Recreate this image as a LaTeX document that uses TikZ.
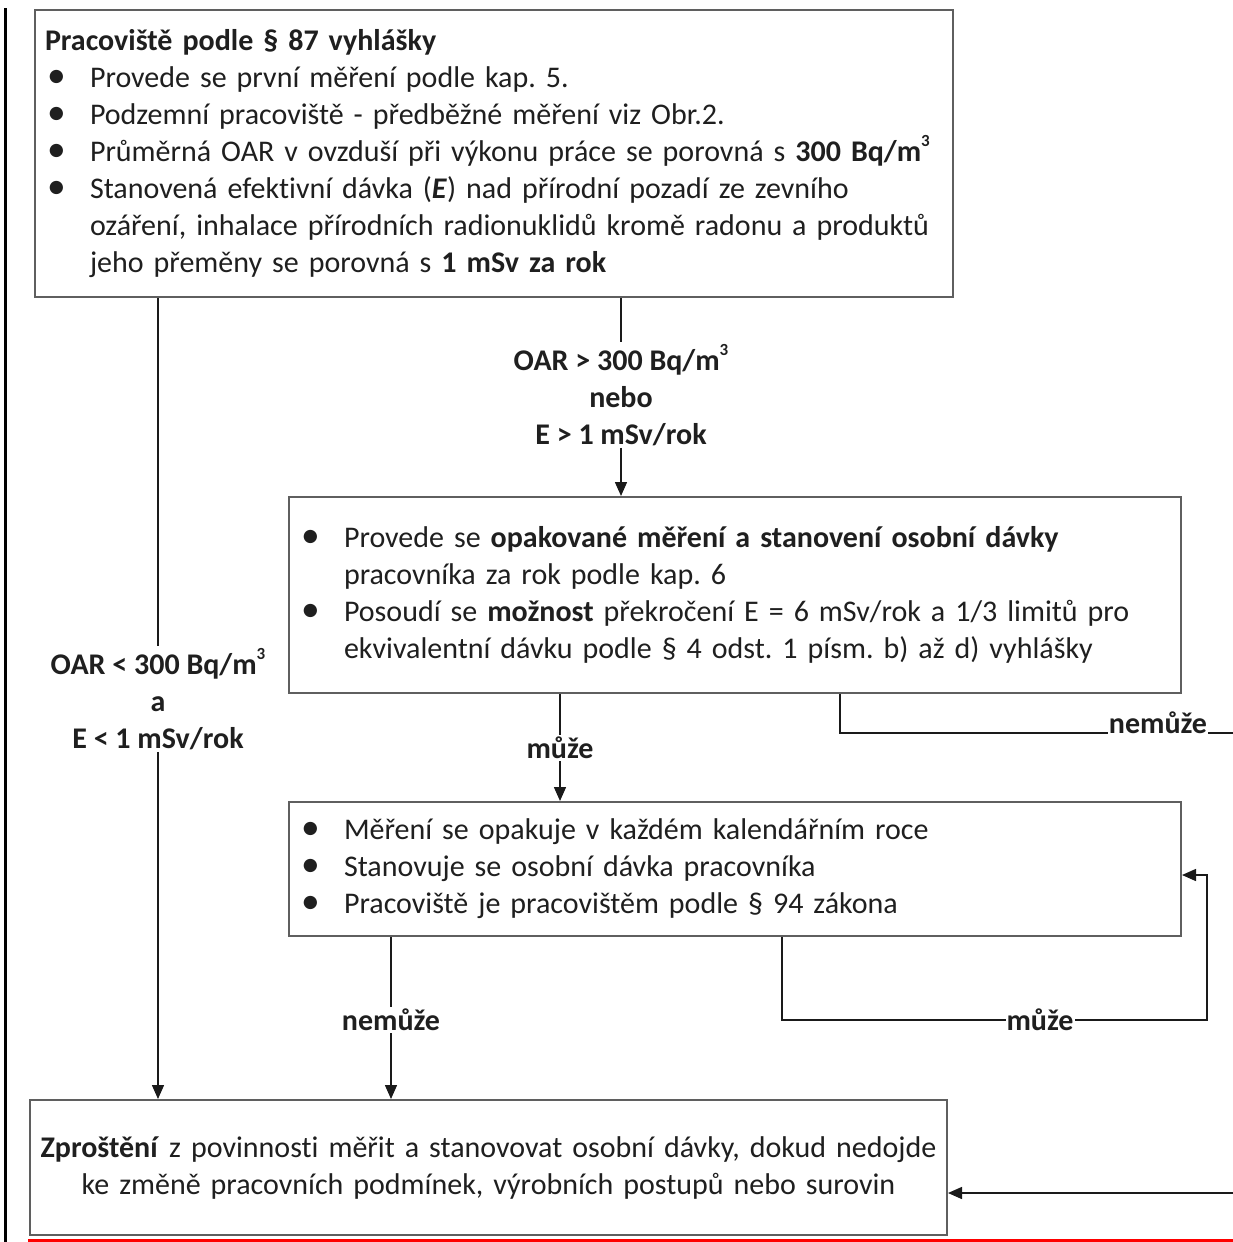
\documentclass[tikz,border=0pt]{standalone}
\usepackage{fontspec}
\setmainfont{Carlito}[Ligatures=NoCommon]
\usetikzlibrary{arrows.meta}
\definecolor{boxgray}{HTML}{5F5F5F}
\definecolor{linec}{HTML}{1A1A1A}
\definecolor{textc}{HTML}{1F1F1F}
\newcommand\bul{\hspace*{2pt}\makebox[43pt][l]{\scalebox{1.25}{\textbullet}}}
\newcommand\ind{\hspace*{45pt}}
\newcommand\cube{\raisebox{0.5em}{\fontsize{17}{17}\selectfont 3}}
\frenchspacing
\begin{document}
\begin{tikzpicture}[x=1pt,y=-1pt,
  box/.style={draw=boxgray, line width=2pt, fill=white, inner xsep=10pt, inner ysep=0pt,
    font=\fontsize{30}{37}\selectfont\frenchspacing, text=textc, align=left},
  lab/.style={font=\fontsize{30}{37}\selectfont\bfseries, text=textc, align=center, inner sep=2pt},
  conn/.style={draw=linec, line width=1.5pt},
  arr/.style={conn, -{Triangle[length=14pt,width=12pt]}}]
\useasboundingbox (0,0) rectangle (1233,1242);
% frame marks
\draw[line width=3pt, black] (5,8) -- (5,1242);
\draw[line width=3pt, red] (28,1240.5) -- (1233,1240.5);

\node[box, minimum width=918pt, text width=898pt, minimum height=287pt] (box1) at (494,153.5) {%
\textbf{Pracoviště podle § 87 vyhlášky}\\
\bul Provede se první měření podle kap. 5.\\
\bul Podzemní pracoviště - předběžné měření viz Obr.2.\\
\bul Průměrná OAR v ovzduší při výkonu práce se porovná s \textbf{300 Bq/m\cube}\\
\bul Stanovená efektivní dávka (\textbf{\textit{E}}) nad přírodní pozadí ze zevního\\
\ind ozáření, inhalace přírodních radionuklidů kromě radonu a produktů\\
\ind jeho přeměny se porovná s \textbf{1 mSv za rok}};

\node[box, minimum width=892pt, text width=872pt, minimum height=196pt] (box2) at (735,595) {%
\bul Provede se \textbf{opakované měření a stanovení osobní dávky}\\
\ind pracovníka za rok podle kap. 6\\
\bul Posoudí se \textbf{možnost} překročení E = 6 mSv/rok a 1/3 limitů pro\\
\ind ekvivalentní dávku podle § 4 odst. 1 písm. b) až d) vyhlášky};

\node[box, minimum width=892pt, text width=872pt, minimum height=134pt] (box3) at (735,869) {%
\bul Měření se opakuje v každém kalendářním roce\\
\bul Stanovuje se osobní dávka pracovníka\\
\bul Pracoviště je pracovištěm podle § 94 zákona};

\node[box, align=center, minimum width=917pt, text width=897pt, minimum height=135pt] (box4) at (488.5,1167.5) {%
\textbf{Zproštění} z povinnosti měřit a stanovovat osobní dávky, dokud nedojde\\
ke změně pracovních podmínek, výrobních postupů nebo surovin};

% labels
\node[lab] (lab1) at (621,395) {OAR > 300 Bq/m\cube\\nebo\\E > 1 mSv/rok};
\node[lab] (lab2) at (158,699) {OAR < 300 Bq/m\cube\\a\\E < 1 mSv/rok};
\node[lab] (lab3) at (560,748) {může};
\node[lab] (lab4) at (391,1020) {nemůže};

% coordinates
\coordinate (x840) at (840,0);
\coordinate (x782) at (782,0);
\coordinate (e1) at (1233,733);
\coordinate (e2) at (1233,1193);
\coordinate (r6) at (1207,875);

% connectors
\draw[conn] (box1.south -| lab1) -- (lab1.north);
\draw[arr] (lab1.south) -- (box2.north -| lab1);
\draw[conn] (box1.south -| lab2) -- (lab2.north);
\draw[arr] (lab2.south) -- (box4.north -| lab2);
\draw[conn] (box2.south -| lab3) -- (lab3.north);
\draw[arr] (lab3.south) -- (box3.north -| lab3);
\draw[conn] (box3.south -| lab4) -- (lab4.north);
\draw[arr] (lab4.south) -- (box4.north -| lab4);
\draw[conn] (box2.south -| x840) |- (e1);
\draw[arr] (e2) -- (box4.east |- e2);
\draw[arr] (box3.south -| x782) |- (r6 |- 0,1020) -- (r6) -- (box3.east |- r6);

\node[lab, fill=white, anchor=base, inner sep=1pt] (lab5) at (1158,733) {nemůže};
\node[lab, fill=white, inner sep=1pt] (lab6) at (1040,1020) {může};
\end{tikzpicture}
\end{document}
